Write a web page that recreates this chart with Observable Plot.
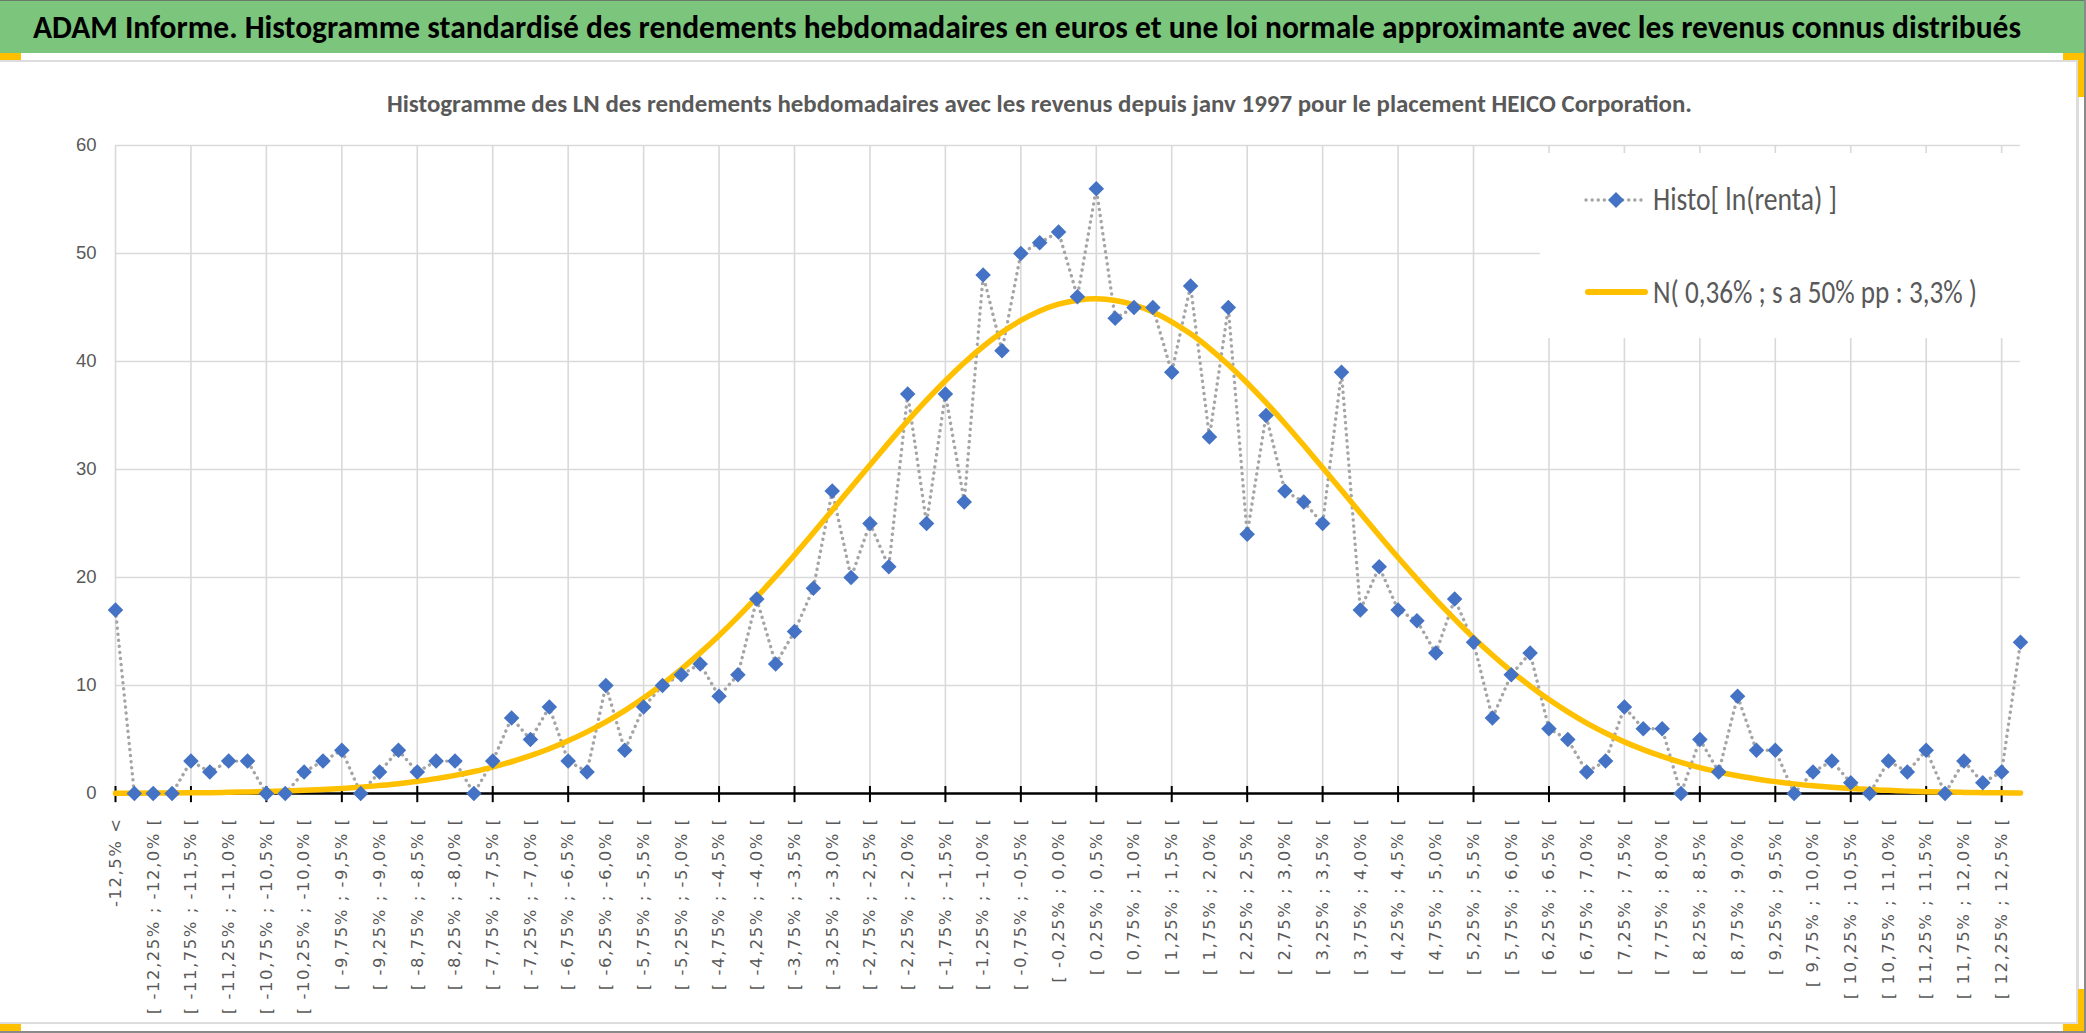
<!DOCTYPE html>
<html lang="fr">
<head>
<meta charset="utf-8">
<script src="https://cdn.jsdelivr.net/npm/d3@7"></script>
<script src="https://cdn.jsdelivr.net/npm/@observablehq/plot@0.6"></script>
<style>
  html, body { margin: 0; padding: 0; background: #ffffff; }
  body { position: relative; width: 2086px; height: 1033px; overflow: hidden; }
  .abs { position: absolute; }
  .fit { position: absolute; white-space: nowrap; line-height: 1; transform-origin: 0 50%; }
</style>
</head>
<body>
<script>
// ---------- data ----------
const categories = [
  "-12,5% <",
  "[ -12,5% ; -12,25% [", "[ -12,25% ; -12,0% [", "[ -12,0% ; -11,75% [", "[ -11,75% ; -11,5% [",
  "[ -11,5% ; -11,25% [", "[ -11,25% ; -11,0% [", "[ -11,0% ; -10,75% [", "[ -10,75% ; -10,5% [",
  "[ -10,5% ; -10,25% [", "[ -10,25% ; -10,0% [", "[ -10,0% ; -9,75% [", "[ -9,75% ; -9,5% [",
  "[ -9,5% ; -9,25% [", "[ -9,25% ; -9,0% [", "[ -9,0% ; -8,75% [", "[ -8,75% ; -8,5% [",
  "[ -8,5% ; -8,25% [", "[ -8,25% ; -8,0% [", "[ -8,0% ; -7,75% [", "[ -7,75% ; -7,5% [",
  "[ -7,5% ; -7,25% [", "[ -7,25% ; -7,0% [", "[ -7,0% ; -6,75% [", "[ -6,75% ; -6,5% [",
  "[ -6,5% ; -6,25% [", "[ -6,25% ; -6,0% [", "[ -6,0% ; -5,75% [", "[ -5,75% ; -5,5% [",
  "[ -5,5% ; -5,25% [", "[ -5,25% ; -5,0% [", "[ -5,0% ; -4,75% [", "[ -4,75% ; -4,5% [",
  "[ -4,5% ; -4,25% [", "[ -4,25% ; -4,0% [", "[ -4,0% ; -3,75% [", "[ -3,75% ; -3,5% [",
  "[ -3,5% ; -3,25% [", "[ -3,25% ; -3,0% [", "[ -3,0% ; -2,75% [", "[ -2,75% ; -2,5% [",
  "[ -2,5% ; -2,25% [", "[ -2,25% ; -2,0% [", "[ -2,0% ; -1,75% [", "[ -1,75% ; -1,5% [",
  "[ -1,5% ; -1,25% [", "[ -1,25% ; -1,0% [", "[ -1,0% ; -0,75% [", "[ -0,75% ; -0,5% [",
  "[ -0,5% ; -0,25% [", "[ -0,25% ; 0,0% [", "[ 0,0% ; 0,25% [", "[ 0,25% ; 0,5% [",
  "[ 0,5% ; 0,75% [", "[ 0,75% ; 1,0% [", "[ 1,0% ; 1,25% [", "[ 1,25% ; 1,5% [",
  "[ 1,5% ; 1,75% [", "[ 1,75% ; 2,0% [", "[ 2,0% ; 2,25% [", "[ 2,25% ; 2,5% [",
  "[ 2,5% ; 2,75% [", "[ 2,75% ; 3,0% [", "[ 3,0% ; 3,25% [", "[ 3,25% ; 3,5% [",
  "[ 3,5% ; 3,75% [", "[ 3,75% ; 4,0% [", "[ 4,0% ; 4,25% [", "[ 4,25% ; 4,5% [",
  "[ 4,5% ; 4,75% [", "[ 4,75% ; 5,0% [", "[ 5,0% ; 5,25% [", "[ 5,25% ; 5,5% [",
  "[ 5,5% ; 5,75% [", "[ 5,75% ; 6,0% [", "[ 6,0% ; 6,25% [", "[ 6,25% ; 6,5% [",
  "[ 6,5% ; 6,75% [", "[ 6,75% ; 7,0% [", "[ 7,0% ; 7,25% [", "[ 7,25% ; 7,5% [",
  "[ 7,5% ; 7,75% [", "[ 7,75% ; 8,0% [", "[ 8,0% ; 8,25% [", "[ 8,25% ; 8,5% [",
  "[ 8,5% ; 8,75% [", "[ 8,75% ; 9,0% [", "[ 9,0% ; 9,25% [", "[ 9,25% ; 9,5% [",
  "[ 9,5% ; 9,75% [", "[ 9,75% ; 10,0% [", "[ 10,0% ; 10,25% [", "[ 10,25% ; 10,5% [",
  "[ 10,5% ; 10,75% [", "[ 10,75% ; 11,0% [", "[ 11,0% ; 11,25% [", "[ 11,25% ; 11,5% [",
  "[ 11,5% ; 11,75% [", "[ 11,75% ; 12,0% [", "[ 12,0% ; 12,25% [", "[ 12,25% ; 12,5% [",
  "12,5% >"
];

// Histo[ ln(renta) ] : weekly counts per bin
const histo = [
  17, 0, 0, 0, 3, 2, 3, 3, 0, 0,
  2, 3, 4, 0, 2, 4, 2, 3, 3, 0,
  3, 7, 5, 8, 3, 2, 10, 4, 8, 10,
  11, 12, 9, 11, 18, 12, 15, 19, 28, 20,
  25, 21, 37, 25, 37, 27, 48, 41, 50, 51,
  52, 46, 56, 44, 45, 45, 39, 47, 33, 45,
  24, 35, 28, 27, 25, 39, 17, 21, 17, 16,
  13, 18, 14, 7, 11, 13, 6, 5, 2, 3,
  8, 6, 6, 0, 5, 2, 9, 4, 4, 0,
  2, 3, 1, 0, 3, 2, 4, 0, 3, 1,
  2, 14
];

// N( 0,36% ; s a 50% pp : 3,3% ) : approximating normal curve, per bin
const normal = [
  0.02, 0.03, 0.04, 0.05, 0.06, 0.08, 0.11, 0.14, 0.18, 0.23,
  0.29, 0.37, 0.47, 0.59, 0.74, 0.91, 1.13, 1.38, 1.68, 2.04,
  2.45, 2.94, 3.50, 4.14, 4.88, 5.71, 6.64, 7.68, 8.84, 10.12,
  11.51, 13.02, 14.63, 16.36, 18.19, 20.10, 22.09, 24.14, 26.22, 28.33,
  30.42, 32.49, 34.50, 36.42, 38.22, 39.89, 41.39, 42.70, 43.80, 44.68,
  45.31, 45.68, 45.80, 45.65, 45.24, 44.59, 43.68, 42.56, 41.22, 39.70,
  38.01, 36.19, 34.26, 32.24, 30.17, 28.08, 25.97, 23.89, 21.85, 19.87,
  17.96, 16.15, 14.43, 12.83, 11.34, 9.96, 8.70, 7.56, 6.52, 5.60,
  4.78, 4.06, 3.43, 2.88, 2.40, 1.99, 1.64, 1.35, 1.10, 0.89,
  0.72, 0.58, 0.46, 0.36, 0.29, 0.22, 0.17, 0.14, 0.10, 0.08,
  0.06, 0.05
];

const yTicks = [0, 10, 20, 30, 40, 50, 60];

const titleText = "ADAM Informe. Histogramme standardisé des rendements hebdomadaires en euros et une loi normale approximante avec les revenus connus distribués";
const subtitleText = "Histogramme des LN des rendements hebdomadaires avec les revenus depuis janv 1997 pour le placement HEICO Corporation.";
const legendHisto = "Histo[ ln(renta) ]";
const legendNormal = "N( 0,36% ; s a 50% pp : 3,3% )";

// ---------- derived tables ----------
const rows = categories.map((c, i) => ({cat: c, histo: histo[i], normal: normal[i]}));
const gridCats = categories.filter((_, i) => i % 4 === 0);
const labeledCats = categories.filter((_, i) => i % 2 === 0);

const narrow = 'Carlito, "Liberation Sans Narrow", "DejaVu Sans Condensed", "Liberation Sans", sans-serif';

function div(cls, css, text) {
  const d = document.createElement("div");
  d.className = cls;
  Object.assign(d.style, css);
  if (text != null) d.textContent = text;
  document.body.appendChild(d);
  return d;
}
function fitWidth(el, target) {
  const w = el.getBoundingClientRect().width;
  if (w > 0) el.style.transform = `scaleX(${target / w})`;
}

// ---------- frame decorations ----------
div("abs", {left: "0px", top: "0px", width: "2086px", height: "53px", background: "#7cc57c", borderTop: "1px solid #6b7b6b", boxSizing: "border-box"});
div("abs", {left: "0px", top: "60px", width: "2079px", height: "2px", background: "#dcdcdc"});
div("abs", {left: "2076px", top: "60px", width: "3px", height: "964px", background: "#dcdcdc"});
div("abs", {left: "0px", top: "1022px", width: "2079px", height: "2px", background: "#dcdcdc"});
div("abs", {left: "2084px", top: "0px", width: "2px", height: "1033px", background: "#8a8a8a"});
div("abs", {left: "0px", top: "1031px", width: "2086px", height: "2px", background: "#8a8a8a"});
// selection corner marks
div("abs", {left: "0px", top: "53px", width: "21px", height: "7px", background: "#ffc000"});
div("abs", {left: "2063px", top: "53px", width: "21px", height: "7px", background: "#ffc000"});
div("abs", {left: "2078px", top: "53px", width: "6px", height: "44px", background: "#ffc000"});
div("abs", {left: "0px", top: "1024px", width: "21px", height: "7px", background: "#ffc000"});
div("abs", {left: "2078px", top: "989px", width: "6px", height: "42px", background: "#ffc000"});
div("abs", {left: "2063px", top: "1024px", width: "21px", height: "7px", background: "#ffc000"});

// ---------- titles ----------
const title = div("fit", {left: "33px", top: "12px", fontFamily: narrow, fontWeight: "bold", fontSize: "32px", color: "#000000"}, titleText);
const subtitle = div("fit", {left: "387px", top: "91px", fontFamily: narrow, fontWeight: "bold", fontSize: "25px", color: "#595959"}, subtitleText);

// ---------- chart ----------
const chart = Plot.plot({
  width: 2086,
  height: 905,
  marginLeft: 115,
  marginRight: 66,
  marginTop: 25,
  marginBottom: 232,
  style: {background: "transparent", overflow: "visible", fontFamily: '"Liberation Sans", sans-serif'},
  x: {type: "point", domain: categories, padding: 0},
  y: {domain: [0, 60]},
  marks: [
    Plot.gridY(yTicks.filter(v => v > 0), {stroke: "#d9d9d9", strokeOpacity: 1, strokeWidth: 1.6}),
    Plot.ruleX(gridCats, {y1: 0, y2: 60, stroke: "#d9d9d9", strokeWidth: 1.6}),
    Plot.axisY({ticks: yTicks, tickSize: 0, tickPadding: 19, fontSize: 18.5, color: "#595959", label: null,
      fontFamily: '"Liberation Sans", Arial, sans-serif'}),
    Plot.axisX({ticks: labeledCats, tickSize: 0, tickPadding: 24, tickRotate: -90, fontSize: 16.5,
      color: "#595959", label: null, fontFamily: '"DejaVu Sans", Verdana, sans-serif'}),
    Plot.ruleY([0], {stroke: "#000000", strokeWidth: 2.6}),
    Plot.ruleX(gridCats, {y1: -0.85, y2: 0.65, stroke: "#000000", strokeWidth: 2}),
    Plot.line(rows, {x: "cat", y: "histo", stroke: "#a5a5a5", strokeWidth: 3.4,
      strokeDasharray: "0.1 6", strokeLinecap: "round", strokeLinejoin: "round"}),
    Plot.line(rows, {x: "cat", y: "normal", stroke: "#ffc000", strokeWidth: 5.5, curve: "catmull-rom"}),
    Plot.dot(rows, {x: "cat", y: "histo", symbol: "diamond2", r: 7, fill: "#4472c4", stroke: "none"})
  ]
});
chart.style.position = "absolute";
chart.style.left = "0px";
chart.style.top = "120px";
document.body.appendChild(chart);
chart.querySelectorAll('g[aria-label="x-axis tick label"] text').forEach(t => t.style.letterSpacing = "1.5px");

// ---------- legend ----------
div("abs", {left: "1540px", top: "153px", width: "490px", height: "185px", background: "#ffffff"});
const sw = document.createElementNS("http://www.w3.org/2000/svg", "svg");
sw.setAttribute("width", "80");
sw.setAttribute("height", "140");
sw.style.position = "absolute";
sw.style.left = "1576px";
sw.style.top = "170px";
sw.innerHTML = `
  <line x1="10" y1="30" x2="70" y2="30" stroke="#a5a5a5" stroke-width="3.4" stroke-dasharray="0.1 6" stroke-linecap="round"/>
  <polygon points="40,22 48,30 40,38 32,30" fill="#4472c4"/>
  <line x1="12" y1="122" x2="69" y2="122" stroke="#ffc000" stroke-width="6" stroke-linecap="round"/>`;
document.body.appendChild(sw);
const lg1 = div("fit", {left: "1653px", top: "184px", fontFamily: narrow, fontSize: "32px", color: "#595959"}, legendHisto);
const lg2 = div("fit", {left: "1653px", top: "277px", fontFamily: narrow, fontSize: "32px", color: "#595959"}, legendNormal);

// ---------- fit text widths to the reference ----------
fitWidth(title, 1988);
fitWidth(subtitle, 1305);
fitWidth(lg1, 184);
fitWidth(lg2, 324);
</script>
</body>
</html>
